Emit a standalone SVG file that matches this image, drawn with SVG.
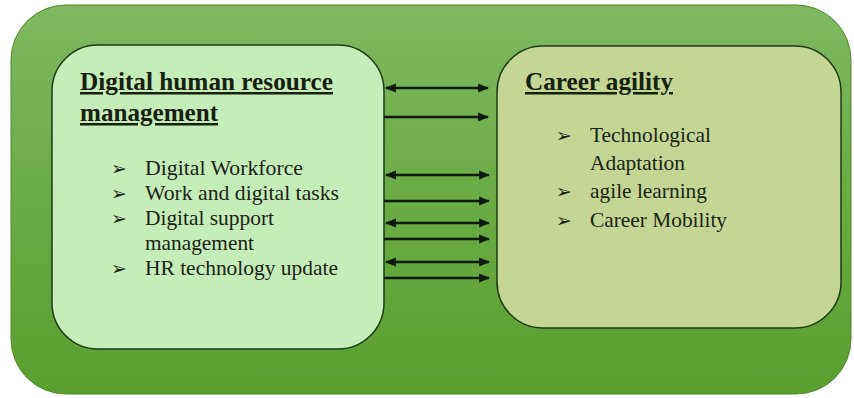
<svg xmlns="http://www.w3.org/2000/svg" width="854" height="398" viewBox="0 0 854 398">
  <defs>
    <linearGradient id="bgGrad" x1="0" y1="0" x2="0" y2="1">
      <stop offset="0" stop-color="#80b862"/>
      <stop offset="0.5" stop-color="#6aab44"/>
      <stop offset="1" stop-color="#5a9f2e"/>
    </linearGradient>
    <marker id="head" viewBox="0 0 10 10" refX="9" refY="5" markerWidth="4.4" markerHeight="4.4" orient="auto-start-reverse" markerUnits="strokeWidth">
      <path d="M0,1 L10,5 L0,9 Z" fill="#0d1a0d"/>
    </marker>
    <style>
      .title { font-family: "Liberation Serif", "Times New Roman", serif; font-size: 25px; font-weight: bold; fill: #16200f; text-decoration: underline; }
      .item { font-family: "Liberation Serif", "Times New Roman", serif; font-size: 21px; fill: #1a2416; }
      .bullet { font-family: "DejaVu Sans", sans-serif; font-size: 19px; font-weight: bold; fill: #1a2416; }
      .conn { stroke: #0d1a0d; stroke-width: 2.5; fill: none; }
    </style>
  </defs>

  <!-- background panel -->
  <rect x="11" y="5" width="840" height="389" rx="55" ry="55" fill="url(#bgGrad)" stroke="#4f8b2a" stroke-width="1"/>

  <g id="hrm">
    <rect x="52" y="45" width="332" height="304" rx="46" ry="46" fill="#c4edb9" stroke="#1f3a14" stroke-width="1.5"/>
    <text class="title" x="80" y="90" textLength="253" lengthAdjust="spacingAndGlyphs">Digital human resource</text>
    <text class="title" x="80" y="121" textLength="138" lengthAdjust="spacingAndGlyphs">management</text>
    <text class="bullet" x="111" y="175">➢</text>
    <text class="item" x="145" y="175" textLength="158" lengthAdjust="spacingAndGlyphs">Digital Workforce</text>
    <text class="bullet" x="111" y="200">➢</text>
    <text class="item" x="145" y="200" textLength="194" lengthAdjust="spacingAndGlyphs">Work and digital tasks</text>
    <text class="bullet" x="111" y="225">➢</text>
    <text class="item" x="145" y="225" textLength="129" lengthAdjust="spacingAndGlyphs">Digital support</text>
    <text class="item" x="145" y="250" textLength="109" lengthAdjust="spacingAndGlyphs">management</text>
    <text class="bullet" x="111" y="275">➢</text>
    <text class="item" x="145" y="275" textLength="193" lengthAdjust="spacingAndGlyphs">HR technology update</text>
  </g>

  <g id="career">
    <rect x="497" y="46" width="344" height="282" rx="46" ry="46" fill="#c5d694" stroke="#1f3a14" stroke-width="1.5"/>
    <text class="title" x="525" y="90" textLength="148" lengthAdjust="spacingAndGlyphs">Career agility</text>
    <text class="bullet" x="556" y="142">➢</text>
    <text class="item" x="590" y="142" textLength="121" lengthAdjust="spacingAndGlyphs">Technological</text>
    <text class="item" x="590" y="170" textLength="95" lengthAdjust="spacingAndGlyphs">Adaptation</text>
    <text class="bullet" x="556" y="198">➢</text>
    <text class="item" x="590" y="198" textLength="117" lengthAdjust="spacingAndGlyphs">agile learning</text>
    <text class="bullet" x="556" y="227">➢</text>
    <text class="item" x="590" y="227" textLength="137" lengthAdjust="spacingAndGlyphs">Career Mobility</text>
  </g>

  <g id="connectors">
    <line class="conn" x1="386" y1="88" x2="488" y2="88" marker-start="url(#head)" marker-end="url(#head)"/>
    <line class="conn" x1="384" y1="117" x2="488" y2="117" marker-end="url(#head)"/>
    <line class="conn" x1="386" y1="175" x2="489" y2="175" marker-start="url(#head)" marker-end="url(#head)"/>
    <line class="conn" x1="384" y1="201" x2="489" y2="201" marker-end="url(#head)"/>
    <line class="conn" x1="386" y1="223" x2="489" y2="223" marker-start="url(#head)" marker-end="url(#head)"/>
    <line class="conn" x1="384" y1="239" x2="489" y2="239" marker-end="url(#head)"/>
    <line class="conn" x1="386" y1="262" x2="489" y2="262" marker-start="url(#head)" marker-end="url(#head)"/>
    <line class="conn" x1="384" y1="278" x2="489" y2="278" marker-end="url(#head)"/>
  </g>
</svg>
